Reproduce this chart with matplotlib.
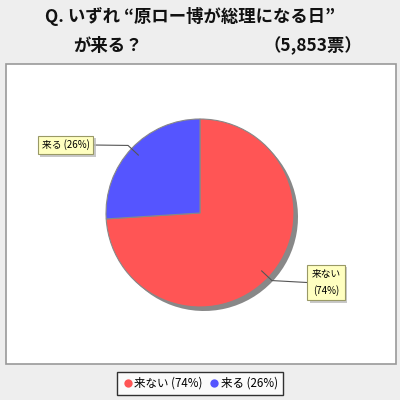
import matplotlib
matplotlib.use("Agg")
import matplotlib.pyplot as plt
from matplotlib.patches import Rectangle
from matplotlib.lines import Line2D
import matplotlib.patheffects as pe
import numpy as np

plt.rcParams['font.family'] = ['Noto Sans CJK JP', 'DejaVu Sans']

categories = ["来ない", "来る"]
values = [74, 26]
colors = ["#FF5555", "#5555FF"]
title_line1 = "Q. いずれ “原ロー博が総理になる日”"
title_line2a = "が来る？"
title_line2b = "（5,853票）"

fig = plt.figure(figsize=(4, 4), dpi=100)
fig.patch.set_facecolor("#EEEEEE")
ax = fig.add_axes([0, 0, 1, 1])

cx, cy, r = 200, 187, 94
# shadow
ax.pie(values, colors=["#888888", "#888888"], startangle=90, counterclock=False,
       center=(cx + 4, cy - 4), radius=r, frame=True,
       wedgeprops=dict(edgecolor="none"))
wedges, _ = ax.pie(values, colors=colors, startangle=90, counterclock=False,
                   center=(cx, cy), radius=r, frame=True,
                   wedgeprops=dict(edgecolor="#888888", lw=0.8))
ax.set_xlim(0, 400)
ax.set_ylim(0, 400)
ax.set_aspect("auto")
ax.axis("off")

# plot area
ax.add_patch(Rectangle((5.5, 400 - 364), 390.5, 364 - 63.5, facecolor="white",
                       edgecolor="#999999", lw=1.2, zorder=-5))

# labels
label_pos = [(326, 400 - 282.5), (65.5, 400 - 145)]
label_txt = [f"{categories[0]}\n({values[0]}%)", f"{categories[1]} ({values[1]}%)"]
for i, (v, w) in enumerate(zip(values, wedges)):
    mid = np.deg2rad((w.theta1 + w.theta2) / 2)
    p_in = (cx + 0.9 * r * np.cos(mid), cy + 0.9 * r * np.sin(mid))
    p_out = (cx + 1.05 * r * np.cos(mid), cy + 1.05 * r * np.sin(mid))
    tx, ty = label_pos[i]
    edge_x = tx - 19 if np.cos(mid) > 0 else tx + 27.5
    ax.plot([p_in[0], p_out[0], edge_x], [p_in[1], p_out[1], ty],
            color="#555555", lw=0.8, zorder=4)
    t = ax.text(tx, ty, label_txt[i], ha="center", va="center", fontsize=7,
                linespacing=1.8, zorder=5, color="black",
                bbox=dict(boxstyle="square,pad=0.4", facecolor="#FFFFC0",
                          edgecolor="#999966", lw=0.8))
    t.get_bbox_patch().set_path_effects(
        [pe.SimplePatchShadow(offset=(2, -2), shadow_rgbFace="#BBBBBB", alpha=0.8),
         pe.Normal()])

# title
tkw = dict(ha="center", va="center", fontsize=12.5, fontweight="bold", color="#111111")
ax.text(190, 400 - 16, title_line1, **tkw)
ax.text(108, 400 - 46, title_line2a, **tkw)
ax.text(313, 400 - 46, title_line2b, **tkw)

# legend
handles = [Line2D([], [], marker="o", ls="none", markersize=6,
                  markerfacecolor=c, markeredgecolor="none") for c in colors]
leg = fig.legend(handles, [f"{c} ({v}%)" for c, v in zip(categories, values)],
                 loc="center", bbox_to_anchor=(200 / 400, 1 - 383.5 / 400),
                 ncol=2, fontsize=8.3, frameon=True, fancybox=False,
                 handletextpad=0.15, columnspacing=0.5, borderpad=0.45,
                 handlelength=0.9, borderaxespad=0)
leg.get_frame().set_edgecolor("black")
leg.get_frame().set_linewidth(1.0)
leg.get_frame().set_facecolor("white")

fig.savefig("out.png", dpi=100, facecolor=fig.get_facecolor())
